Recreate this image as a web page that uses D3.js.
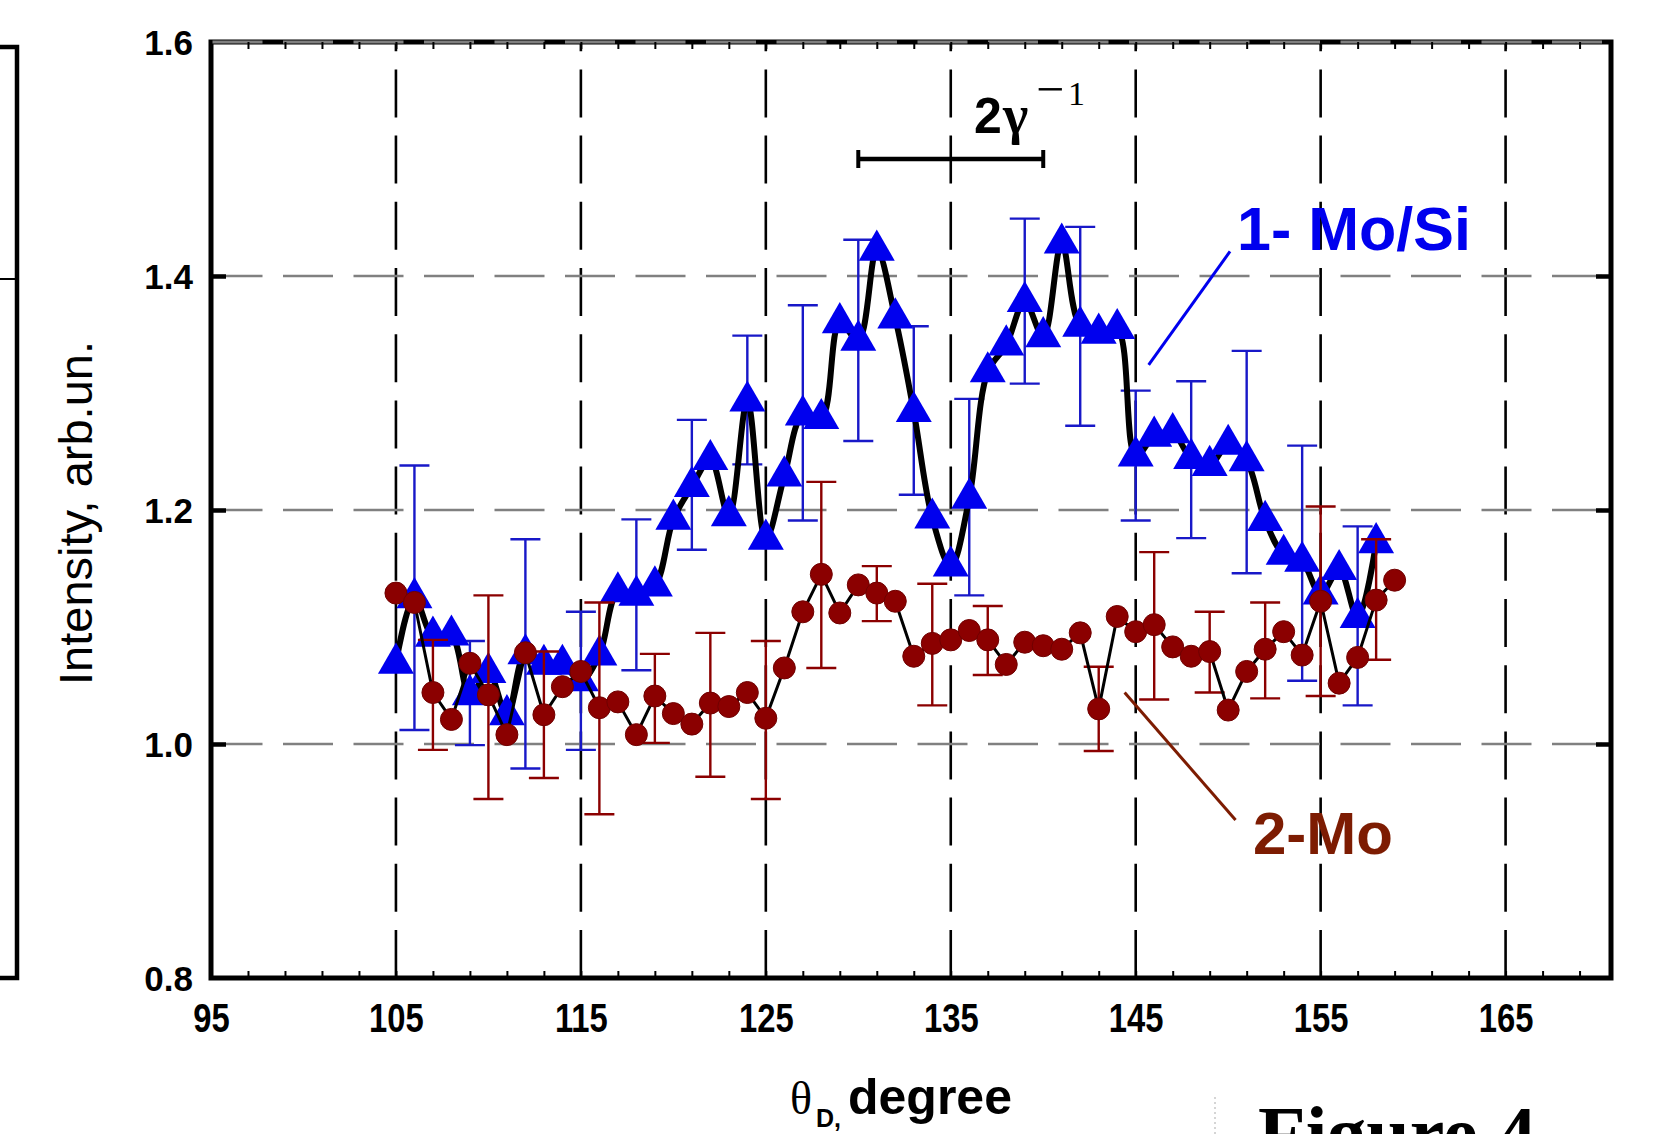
<!DOCTYPE html>
<html lang="en">
<head>
<meta charset="utf-8">
<title>Intensity vs theta_D</title>
<style>
  body { margin: 0; background: #fff; }
  svg { display: block; }
  text { font-family: Arial, 'Liberation Sans', sans-serif; }
  .serif { font-family: 'Liberation Serif', 'Times New Roman', serif; }
</style>
<script src="https://d3js.org/d3.v7.min.js"></script>
</head>
<body>
<svg id="chart" width="1654" height="1134"></svg>
<script>
// ---- data ----
var angleMoSi = [105,106,107,108,109,110,111,112,113,114,115,116,117,118,119,120,121,122,123,124,125,126,127,128,129,130,131,
                 132,133,134,135,136,137,138,139,140,141,142,143,144,145,146,147,148,149,150,151,152,153,154,155,156,157,158];
var intMoSi = [1.069,1.125,1.092,1.093,1.042,1.061,1.025,1.077,1.068,1.068,1.054,1.076,1.130,1.127,1.135,1.192,1.220,1.243,1.195,1.293,1.175,1.229,1.281,1.278,1.360,1.345,1.422,
               1.364,1.284,1.193,1.152,1.210,1.318,1.341,1.378,1.348,1.428,1.357,1.351,1.355,1.246,1.263,1.266,1.244,1.238,1.256,1.242,1.191,1.162,1.156,1.128,1.149,1.108,1.172];
var errMoSiX  = [106,109,112,115,118,121,124,127,130,133,136,139,142,145,148,151,154,157];
var errMoSiLo = [1.012,0.999,0.979,0.995,1.063,1.166,1.239,1.191,1.259,1.213,1.127,1.308,1.272,1.191,1.176,1.146,1.054,1.033];
var errMoSiHi = [1.238,1.088,1.175,1.113,1.192,1.277,1.349,1.375,1.431,1.357,1.295,1.449,1.442,1.302,1.310,1.336,1.255,1.186];

var angleMo = [105,106,107,108,109,110,111,112,113,114,115,116,117,118,119,120,121,122,123,124,125,126,127,128,129,130,131,
               132,133,134,135,136,137,138,139,140,141,142,143,144,145,146,147,148,149,150,151,152,153,154,155,156,157,158,159];
var intMo = [1.129,1.121,1.044,1.021,1.069,1.042,1.008,1.078,1.025,1.049,1.062,1.031,1.036,1.008,1.041,1.026,1.017,1.035,1.032,1.044,1.022,1.065,1.113,1.145,1.112,1.136,1.129,
             1.122,1.075,1.086,1.089,1.097,1.089,1.068,1.087,1.084,1.081,1.095,1.030,1.109,1.096,1.102,1.083,1.075,1.079,1.029,1.062,1.081,1.096,1.076,1.122,1.052,1.074,1.123,1.140];
var errMoX  = [107,110,113,116,119,122,125,128,131,134,137,143,146,149,152,155,158];
var errMoLo = [0.995,0.953,0.971,0.940,1.001,0.972,0.953,1.065,1.105,1.033,1.059,0.994,1.038,1.044,1.039,1.041,1.072];
var errMoHi = [1.089,1.127,1.079,1.121,1.077,1.095,1.088,1.224,1.152,1.137,1.118,1.066,1.164,1.113,1.121,1.203,1.175];

var xTicks = [95,105,115,125,135,145,155,165];
var xGrid = [105,115,125,135,145,155,165];
var yTicks = [0.8,1.0,1.2,1.4,1.6];
var yGrid = [1.0,1.2,1.4,1.6];

var blue = '#0000ee', blueBar = '#1818c8', red = '#8b0000', brown = '#7d1c02';

var x = d3.scaleLinear().domain([95, 170.7]).range([211, 1611]);
var y = d3.scaleLinear().domain([0.8, 1.6]).range([978, 42]);

var svg = d3.select('#chart');
svg.append('rect').attr('width', 1654).attr('height', 1134).attr('fill', '#fff');

// remains of the neighbouring panel on the left
svg.append('path').attr('d', 'M0,47 H17 V978 H0').attr('fill', 'none').attr('stroke', '#000').attr('stroke-width', 4.5);
svg.append('line').attr('x1', 0).attr('x2', 16).attr('y1', 279).attr('y2', 279).attr('stroke', '#000').attr('stroke-width', 2);

// grid
svg.append('g').selectAll('line').data(xGrid).join('line')
  .attr('x1', d => x(d)).attr('x2', d => x(d))
  .attr('y1', y(0.8)).attr('y2', y(1.6))
  .attr('stroke', '#000').attr('stroke-width', 2.6)
  .attr('stroke-dasharray', '48 18.2');

svg.append('g').selectAll('line').data(yGrid).join('line')
  .attr('x1', x(95) + 1.5).attr('x2', x(170.7))
  .attr('y1', d => y(d)).attr('y2', d => y(d))
  .attr('stroke', '#808080').attr('stroke-width', 2.6)
  .attr('stroke-dasharray', '50 20.5');

// 2 gamma^-1 scale bar
svg.append('line').attr('x1', x(130)).attr('x2', x(140)).attr('y1', y(1.5)).attr('y2', y(1.5))
  .attr('stroke', '#000').attr('stroke-width', 4.5);
svg.append('g').selectAll('line').data([130, 140]).join('line')
  .attr('x1', d => x(d)).attr('x2', d => x(d))
  .attr('y1', y(1.5) - 9).attr('y2', y(1.5) + 9)
  .attr('stroke', '#000').attr('stroke-width', 4);

function errorBars(g, xs, lo, hi, color) {
  var gg = g.append('g').attr('stroke', color).attr('stroke-width', 2.4).attr('fill', 'none');
  gg.selectAll('path').data(xs).join('path')
    .attr('d', (d, i) => {
      var cx = x(d), y0 = y(lo[i]), y1 = y(hi[i]);
      return 'M' + cx + ',' + y0 + 'V' + y1 +
             'M' + (cx - 15) + ',' + y0 + 'H' + (cx + 15) +
             'M' + (cx - 15) + ',' + y1 + 'H' + (cx + 15);
    });
}

var ptsMoSi = angleMoSi.map((a, i) => [a, intMoSi[i]]);
var ptsMo = angleMo.map((a, i) => [a, intMo[i]]);

// series 1 : Mo/Si
errorBars(svg, errMoSiX, errMoSiLo, errMoSiHi, blueBar);
svg.append('path').datum(ptsMoSi)
  .attr('d', d3.line().x(d => x(d[0])).y(d => y(d[1])).curve(d3.curveCatmullRom.alpha(0.5)))
  .attr('fill', 'none').attr('stroke', '#000').attr('stroke-width', 6).attr('stroke-linejoin', 'round');
svg.append('g').selectAll('path').data(ptsMoSi).join('path')
  .attr('transform', d => 'translate(' + x(d[0]) + ',' + y(d[1]) + ')')
  .attr('d', d3.symbol(d3.symbolTriangle, 560))
  .attr('fill', blue);

// series 2 : Mo
errorBars(svg, errMoX, errMoLo, errMoHi, red);
svg.append('path').datum(ptsMo)
  .attr('d', d3.line().x(d => x(d[0])).y(d => y(d[1])))
  .attr('fill', 'none').attr('stroke', '#000').attr('stroke-width', 3).attr('stroke-linejoin', 'round');
svg.append('g').selectAll('circle').data(ptsMo).join('circle')
  .attr('cx', d => x(d[0])).attr('cy', d => y(d[1])).attr('r', 11)
  .attr('fill', red).attr('stroke', '#700000').attr('stroke-width', 1);

// frame and axes
svg.append('rect').attr('x', x(95)).attr('y', y(1.6))
  .attr('width', x(170.7) - x(95)).attr('height', y(0.8) - y(1.6))
  .attr('fill', 'none').attr('stroke', '#000').attr('stroke-width', 5);
// gray grid line at 1.6 lies on top of the frame
svg.append('line').attr('x1', x(95) + 1.5).attr('x2', x(170.7) - 3).attr('y1', y(1.6)).attr('y2', y(1.6))
  .attr('stroke', '#808080').attr('stroke-width', 3).attr('stroke-dasharray', '50 20.5');

var minor = d3.range(97, 171, 2);
svg.append('g').attr('transform', 'translate(0,' + y(0.8) + ')')
  .call(d3.axisBottom(x).tickValues(minor).tickSize(-7).tickFormat(''))
  .call(g => g.select('.domain').remove())
  .call(g => g.selectAll('line').attr('stroke-width', 2));
svg.append('g').attr('transform', 'translate(0,' + y(1.6) + ')')
  .call(d3.axisTop(x).tickValues(minor).tickSize(-7).tickFormat(''))
  .call(g => g.select('.domain').remove())
  .call(g => g.selectAll('line').attr('stroke-width', 2));
svg.append('g').attr('transform', 'translate(' + x(95) + ',0)')
  .call(d3.axisLeft(y).tickValues(yGrid.slice(0, 3)).tickSize(-15).tickFormat(''))
  .call(g => g.select('.domain').remove())
  .call(g => g.selectAll('line').attr('stroke-width', 4.5));
svg.append('g').attr('transform', 'translate(' + x(170.7) + ',0)')
  .call(d3.axisRight(y).tickValues(yGrid.slice(0, 3)).tickSize(-15).tickFormat(''))
  .call(g => g.select('.domain').remove())
  .call(g => g.selectAll('line').attr('stroke-width', 4.5));

// tick labels
svg.append('g').attr('transform', 'translate(0,' + y(0.8) + ')')
  .call(d3.axisBottom(x).tickValues(xTicks).tickSize(0).tickPadding(26).tickFormat(d3.format('d')))
  .call(g => g.select('.domain').remove())
  .call(g => g.selectAll('text').attr('font-size', 40).attr('font-weight', 'bold')
    .attr('transform', 'scale(0.82,1)')
    .attr('font-family', 'Arial, Liberation Sans, sans-serif').attr('fill', '#000'));
svg.append('g').attr('transform', 'translate(' + x(95) + ',0)')
  .call(d3.axisLeft(y).tickValues(yTicks).tickSize(0).tickPadding(18).tickFormat(d3.format('.1f')))
  .call(g => g.select('.domain').remove())
  .call(g => g.selectAll('text').attr('font-size', 35).attr('font-weight', 'bold').attr('dy', '0.37em')
    .attr('font-family', 'Arial, Liberation Sans, sans-serif').attr('fill', '#000'));

// axis titles
svg.append('text').attr('transform', 'translate(92,513) rotate(-90)')
  .attr('text-anchor', 'middle').attr('font-size', 47).text('Intensity, arb.un.');
svg.append('text').attr('class', 'serif').attr('x', 790).attr('y', 1114).attr('font-size', 46).text('θ');
svg.append('text').attr('x', 816).attr('y', 1127).attr('font-size', 25).attr('font-weight', 'bold').text('D,');
svg.append('text').attr('x', 848).attr('y', 1114).attr('font-size', 50).attr('font-weight', 'bold').text('degree');

// annotations
svg.append('text').attr('x', 974).attr('y', 133).attr('font-size', 50).attr('font-weight', 'bold').text('2');
svg.append('text').attr('class', 'serif').attr('x', 1003).attr('y', 133).attr('font-size', 54)
  .attr('font-weight', 'bold').text('γ');
svg.append('text').attr('class', 'serif').attr('x', 1036).attr('y', 106).attr('font-size', 50).text('−');
svg.append('text').attr('class', 'serif').attr('x', 1068).attr('y', 105).attr('font-size', 34).text('1');

svg.append('line').attr('x1', x(150.1)).attr('y1', y(1.421)).attr('x2', x(145.7)).attr('y2', y(1.324))
  .attr('stroke', blue).attr('stroke-width', 3);
svg.append('text').attr('x', 1237).attr('y', 250).attr('font-size', 61).attr('font-weight', 'bold')
  .attr('fill', blue).text('1- Mo/Si');

svg.append('line').attr('x1', x(144.4)).attr('y1', y(1.044)).attr('x2', x(150.4)).attr('y2', y(0.935))
  .attr('stroke', brown).attr('stroke-width', 3);
svg.append('text').attr('x', 1253).attr('y', 854).attr('font-size', 60).attr('font-weight', 'bold')
  .attr('fill', brown).text('2-Mo');

// caption, cut off at the bottom edge as in the source picture
svg.append('line').attr('x1', 1215).attr('x2', 1215).attr('y1', 1097).attr('y2', 1134)
  .attr('stroke', '#c8c8c8').attr('stroke-width', 1.5).attr('stroke-dasharray', '2 3');
svg.append('text').attr('class', 'serif').attr('x', 1258).attr('y', 1160)
  .attr('font-size', 78).attr('font-weight', 'bold').text('Figure 4');
</script>
</body>
</html>
